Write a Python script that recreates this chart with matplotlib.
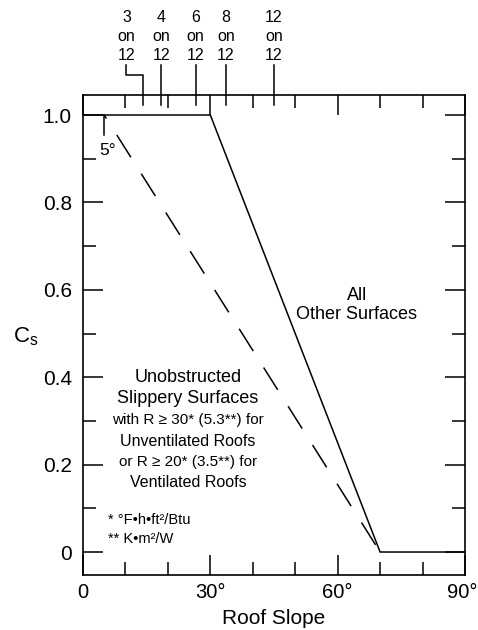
import matplotlib
matplotlib.use("Agg")
import matplotlib.pyplot as plt
import matplotlib.transforms as mtransforms
import numpy as np

plt.rcParams['font.family'] = ['Liberation Sans', 'DejaVu Sans']
plt.rcParams['lines.scale_dashes'] = False

# roof slope factor curves (degrees vs Cs)
slope_other = [0, 30, 70, 90]
cs_other = [1.0, 1.0, 0.0, 0.0]
slope_slippery = [5, 70]
cs_slippery = [1.0, 0.0]

# pitch labels on top axis ("n on 12")
pitch_rise = [3, 4, 6, 8, 12]
pitch_run = 12

x_ticks = [0, 30, 60, 90]
x_labels = ["0", "30°", "60°", "90°"]
y_ticks = [0, 0.2, 0.4, 0.6, 0.8, 1.0]
y_labels = ["0", "0.2", "0.4", "0.6", "0.8", "1.0"]

slippery_lines = ["Unobstructed", "Slippery Surfaces", "with R ≥ 30* (5.3**) for",
                  "Unventilated Roofs", "or R ≥ 20* (3.5**) for", "Ventilated Roofs"]

fig = plt.figure(figsize=(4.78, 6.3), dpi=100)
ax = fig.add_axes([0.1736, 0.0873, 0.7992, 0.7619])

ax.plot(slope_other, cs_other, color="black", lw=1.1, solid_joinstyle="miter")
ax.plot(slope_slippery, cs_slippery, color="black", lw=1.1,
        linestyle=(16, (19, 14)))

ax.set_xlim(0, 90)
ax.set_ylim(-0.0526, 1.0458)

for sp in ax.spines.values():
    sp.set_linewidth(1.2)

ax.set_xticks(x_ticks)
ax.set_xticklabels(x_labels, fontsize=14.5)
ax.set_xticks(np.arange(0, 91, 10), minor=True)
ax.set_yticks(y_ticks)
ax.set_yticklabels(y_labels, fontsize=15)
ax.set_yticks(np.arange(0, 1.01, 0.1), minor=True)
ax.tick_params(which="both", direction="in", top=True, right=True, width=1.1, color="black")
ax.tick_params(which="major", length=14.5)
ax.tick_params(which="minor", length=9.5)
ax.tick_params(axis="x", which="major", pad=6)
ax.tick_params(axis="y", which="major", pad=8)

# keep the 90° label inside the canvas
last = ax.get_xticklabels()[-1]
last.set_transform(last.get_transform() +
                   mtransforms.ScaledTranslation(-3 / 100, 0, fig.dpi_scale_trans))

ax.set_xlabel("Roof Slope", fontsize=15, labelpad=5)
ax.text(-0.15, 0.496, r"C$_\mathregular{s}$", transform=ax.transAxes,
        fontsize=16, ha="center", va="center")

# top pitch ticks and labels
trans = mtransforms.blended_transform_factory(ax.transData, ax.transAxes)
for rise in pitch_rise:
    xd = np.degrees(np.arctan(rise / pitch_run))
    label_x = xd
    if rise == 3:
        label_x = xd - 3.8
        ax.plot([xd, xd, label_x, label_x], [0.979, 1.042, 1.042, 1.063],
                transform=trans, color="black", lw=1.1, clip_on=False)
    else:
        ax.plot([xd, xd], [0.979, 1.063], transform=trans, color="black",
                lw=1.1, clip_on=False)
    ax.text(label_x, 1.066, f"{rise}\non\n{pitch_run}", transform=trans,
            ha="center", va="bottom", fontsize=11.5, linespacing=1.35)

# 5 degree marker
ax.plot([5, 5], [1.0, 0.955], color="black", lw=1.1)
ax.text(5.7, 0.918, "5°", ha="center", va="center", fontsize=12.5)

ax.text(64.5, 0.565, "All\nOther Surfaces", ha="center", va="center",
        fontsize=13, linespacing=1.15)

line_y = [0.400, 0.352, 0.302, 0.254, 0.206, 0.158]
line_size = [13, 13, 11, 11.5, 11, 11.5]
for txt, yy, fs in zip(slippery_lines, line_y, line_size):
    ax.text(24.7, yy, txt, ha="center", va="center", fontsize=fs)

ax.text(6.0, 0.052, "* °F•h•ft²/Btu\n** K•m²/W", ha="left", va="center",
        fontsize=10.5, linespacing=1.45)

fig.savefig("out.png", dpi=100)
